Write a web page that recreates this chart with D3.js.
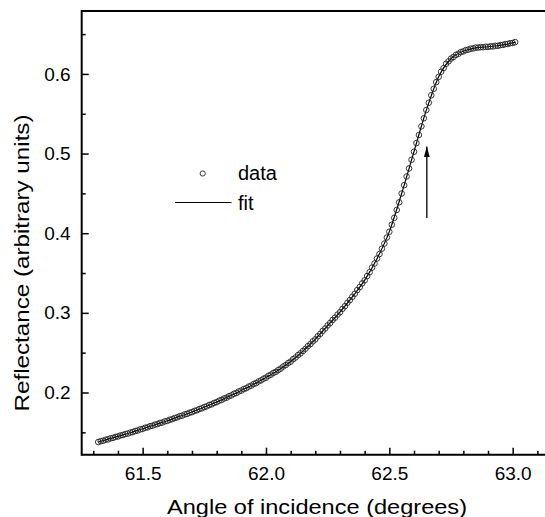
<!DOCTYPE html>
<html>
<head>
<meta charset="utf-8">
<script src="https://cdn.jsdelivr.net/npm/d3@7"></script>
<style>
html,body{margin:0;padding:0;background:#fff;}
svg{display:block;font-family:"Liberation Sans",Arial,sans-serif;}
</style>
</head>
<body>
<svg id="chart" width="545" height="517"></svg>
<script>
// ---- data ----
const dataAngles = [
61.32,61.33,61.34,61.35,61.36,61.37,61.38,61.39,61.40,61.41,61.42,61.43,61.44,61.45,61.46,61.47,61.48,61.49,
61.50,61.51,61.52,61.53,61.54,61.55,61.56,61.57,61.58,61.59,61.60,61.61,61.62,61.63,61.64,61.65,61.66,61.67,61.68,61.69,
61.70,61.71,61.72,61.73,61.74,61.75,61.76,61.77,61.78,61.79,61.80,61.81,61.82,61.83,61.84,61.85,61.86,61.87,61.88,61.89,
61.90,61.91,61.92,61.93,61.94,61.95,61.96,61.97,61.98,61.99,62.00,62.01,62.02,62.03,62.04,62.05,62.06,62.07,62.08,62.09,
62.10,62.11,62.12,62.13,62.14,62.15,62.16,62.17,62.18,62.19,62.20,62.21,62.22,62.23,62.24,62.25,62.26,62.27,62.28,62.29,
62.30,62.31,62.32,62.33,62.34,62.35,62.36,62.37,62.38,62.39,62.40,62.41,62.42,62.43,62.44,62.45,62.46,62.47,62.48,62.49,
62.50,62.51,62.52,62.53,62.54,62.55,62.56,62.57,62.58,62.59,62.60,62.61,62.62,62.63,62.64,62.65,62.66,62.67,62.68,62.69,
62.70,62.71,62.72,62.73,62.74,62.75,62.76,62.77,62.78,62.79,62.80,62.81,62.82,62.83,62.84,62.85,62.86,62.87,62.88,62.89,
62.90,62.91,62.92,62.93,62.94,62.95,62.96,62.97,62.98,62.99,63.00,63.01
];
const dataReflectance = [
0.1378,0.1389,0.1394,0.1407,0.1412,0.1425,0.1430,0.1443,0.1448,0.1461,0.1466,0.1479,0.1484,0.1497,0.1503,0.1517,0.1523,0.1537,
0.1543,0.1557,0.1563,0.1577,0.1583,0.1597,0.1603,0.1617,0.1623,0.1637,0.1643,0.1658,0.1665,0.1680,0.1687,0.1702,0.1709,0.1724,0.1731,0.1746,
0.1753,0.1769,0.1777,0.1793,0.1801,0.1817,0.1826,0.1843,0.1852,0.1869,0.1879,0.1897,0.1907,0.1925,0.1935,0.1953,0.1964,0.1983,0.1994,0.2013,
0.2024,0.2043,0.2054,0.2074,0.2086,0.2106,0.2118,0.2139,0.2152,0.2173,0.2186,0.2210,0.2224,0.2246,0.2260,0.2282,0.2300,0.2326,0.2344,0.2370,
0.2388,0.2418,0.2440,0.2470,0.2492,0.2522,0.2548,0.2582,0.2608,0.2642,0.2668,0.2706,0.2736,0.2774,0.2804,0.2842,0.2872,0.2910,0.2940,0.2978,
0.3008,0.3050,0.3084,0.3126,0.3160,0.3202,0.3240,0.3286,0.3324,0.3370,0.3408,0.3462,0.3510,0.3568,0.3620,0.3682,0.3738,0.3806,0.3870,0.3946,
0.4018,0.4107,0.4193,0.4292,0.4388,0.4498,0.4603,0.4712,0.4813,0.4922,0.5023,0.5132,0.5233,0.5342,0.5443,0.5547,0.5638,0.5732,0.5813,0.5897,
0.5963,0.6027,0.6073,0.6127,0.6158,0.6192,0.6213,0.6239,0.6253,0.6274,0.6283,0.6299,0.6305,0.6317,0.6320,0.6330,0.6330,0.6337,0.6335,0.6341,
0.6339,0.6346,0.6345,0.6353,0.6353,0.6362,0.6364,0.6374,0.6376,0.6386,0.6388,0.6400
];
const fitAngles = [61.32,61.35,61.40,61.45,61.50,61.55,61.60,61.65,61.70,61.75,61.80,61.85,61.90,61.95,62.00,62.05,62.10,62.15,62.20,
62.25,62.30,62.35,62.40,62.45,62.50,62.55,62.60,62.65,62.70,62.75,62.80,62.85,62.90,62.95,63.00,63.01];
const fitReflectance = [0.1378,0.1405,0.1450,0.1495,0.1545,0.1595,0.1645,0.1700,0.1755,0.1815,0.1881,0.1951,0.2026,0.2104,0.2188,0.2280,0.2390,0.2520,0.2670,
0.2840,0.3010,0.3200,0.3410,0.3680,0.4020,0.4500,0.5025,0.5545,0.5965,0.6190,0.6285,0.6328,0.6341,0.6360,0.6390,0.6400];
const xMajorTicks = [61.5, 62.0, 62.5, 63.0];
const xMinorTicks = [61.3,61.4,61.6,61.7,61.8,61.9,62.1,62.2,62.3,62.4,62.6,62.7,62.8,62.9,63.1];
const yMajorTicks = [0.2, 0.3, 0.4, 0.5, 0.6];
const yMinorTicks = [0.15, 0.25, 0.35, 0.45, 0.55, 0.65];
const xTitle = "Angle of incidence (degrees)";
const yTitle = "Reflectance (arbitrary units)";
const legendLabels = ["data", "fit"];
const arrowAngle = 62.652;
const arrowFrom = 0.419;
const arrowTo = 0.509;

// ---- layout ----
const svg = d3.select("#chart");
const L = 81.7, R = 545, T = 11, B = 454.7;
const x = d3.scaleLinear().domain([61.253, 63.131]).range([L, R]);
const y = d3.scaleLinear().domain([0.1219, 0.679]).range([B, T]);

const tickFont = 19;

// axes
const gx = svg.append("g").attr("transform", `translate(0,${B})`)
  .call(d3.axisBottom(x).tickValues(xMajorTicks).tickSize(-7).tickPadding(11.5).tickFormat(d3.format(".1f")));
const gxm = svg.append("g").attr("transform", `translate(0,${B})`)
  .call(d3.axisBottom(x).tickValues(xMinorTicks).tickSize(-4).tickFormat(""));
const gy = svg.append("g").attr("transform", `translate(${L},0)`)
  .call(d3.axisLeft(y).tickValues(yMajorTicks).tickSize(-7).tickPadding(11).tickFormat(d3.format(".1f")));
const gym = svg.append("g").attr("transform", `translate(${L},0)`)
  .call(d3.axisLeft(y).tickValues(yMinorTicks).tickSize(-4).tickFormat(""));
[gx, gxm, gy, gym].forEach(g => {
  g.select(".domain").remove();
  g.selectAll(".tick line").attr("stroke", "#000").attr("stroke-width", 1.5);
  g.selectAll(".tick text").attr("fill", "#000").style("font-size", tickFont + "px")
    .style("font-family", "'Liberation Sans', Arial, sans-serif");
});
// frame lines
svg.append("line").attr("x1", L).attr("x2", R).attr("y1", B).attr("y2", B).attr("stroke", "#000").attr("stroke-width", 2);
svg.append("line").attr("x1", L).attr("x2", R).attr("y1", T).attr("y2", T).attr("stroke", "#000").attr("stroke-width", 2);
svg.append("line").attr("x1", L).attr("x2", L).attr("y1", T - 1).attr("y2", B + 1).attr("stroke", "#000").attr("stroke-width", 2);

// fit line
const line = d3.line().x((d, i) => x(fitAngles[i])).y(d => y(d)).curve(d3.curveMonotoneX);
svg.append("path").datum(fitReflectance).attr("d", line)
  .attr("fill", "none").attr("stroke", "#000").attr("stroke-width", 1.2);

// data circles
svg.append("g").selectAll("circle").data(dataReflectance).join("circle")
  .attr("cx", (d, i) => x(dataAngles[i])).attr("cy", d => y(d)).attr("r", 2.8)
  .attr("fill", "none").attr("stroke", "#222").attr("stroke-width", 0.9);

// arrow
svg.append("defs").append("marker").attr("id", "ah").attr("viewBox", "0 0 10 10")
  .attr("refX", 10).attr("refY", 5).attr("markerWidth", 11).attr("markerHeight", 11)
  .attr("markerUnits", "userSpaceOnUse").attr("orient", "auto")
  .append("path").attr("d", "M0,2.3 L10,5 L0,7.7 Z").attr("fill", "#000");
svg.append("line").attr("x1", x(arrowAngle)).attr("x2", x(arrowAngle))
  .attr("y1", y(arrowFrom)).attr("y2", y(arrowTo))
  .attr("stroke", "#000").attr("stroke-width", 1.3).attr("marker-end", "url(#ah)");

// legend
svg.append("circle").attr("cx", 202.7).attr("cy", 173.5).attr("r", 2.6)
  .attr("fill", "none").attr("stroke", "#222").attr("stroke-width", 0.9);
svg.append("text").attr("x", 238).attr("y", 180).style("font-size", "20px").text(legendLabels[0]);
svg.append("line").attr("x1", 175).attr("x2", 231.5).attr("y1", 202.5).attr("y2", 202.5)
  .attr("stroke", "#000").attr("stroke-width", 1.2);
svg.append("text").attr("x", 238).attr("y", 210).style("font-size", "20px").text(legendLabels[1]);

// titles
svg.append("text").attr("x", 167).attr("y", 514)
  .attr("textLength", 300).attr("lengthAdjust", "spacingAndGlyphs")
  .style("font-size", "21px").text(xTitle);
svg.append("text").attr("transform", `translate(28.5,411.5) rotate(-90)`)
  .attr("textLength", 297).attr("lengthAdjust", "spacingAndGlyphs")
  .style("font-size", "21px").text(yTitle);
</script>
</body>
</html>
